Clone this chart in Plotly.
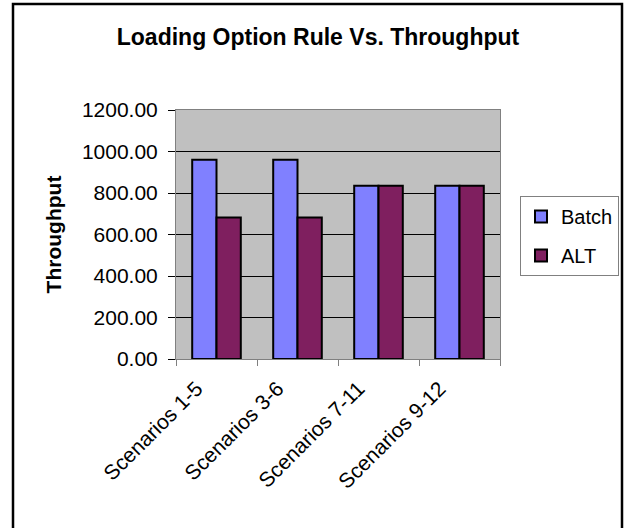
import plotly.graph_objects as go

categories = ["Scenarios 1-5", "Scenarios 3-6", "Scenarios 7-11", "Scenarios 9-12"]
batch = [960, 960, 835, 835]
alt = [682, 682, 835, 835]
y_ticks = [0, 200, 400, 600, 800, 1000, 1200]
y_tick_labels = ["%.2f" % v for v in y_ticks]

W, H = 626, 528
L, R, T, B = 176, 126, 110, 169
pw, ph = W - L - R, H - T - B

def px(x):
    return (x - L) / pw

def py(y):
    return (H - B - y) / ph

fig = go.Figure()
fig.add_trace(go.Bar(name="Batch", x=categories, y=batch, legendgroup="a",
                     marker=dict(color="#8080FF", line=dict(color="black", width=2))))
fig.add_trace(go.Bar(name="ALT", x=categories, y=alt, legendgroup="b",
                     marker=dict(color="#7F1F5F", line=dict(color="black", width=2))))

fig.update_layout(
    width=W, height=H,
    margin=dict(l=L, r=R, t=T, b=B, pad=0, autoexpand=False),
    paper_bgcolor="white",
    plot_bgcolor="#C0C0C0",
    barmode="group", bargap=0.4, bargroupgap=0,
    font=dict(family="Liberation Sans, Arial", size=21, color="black"),
    title=dict(text="<b>Loading Option Rule Vs. Throughput</b>",
               x=318 / W, xanchor="center", y=1 - 37 / H, yanchor="middle",
               font=dict(size=23)),
    showlegend=True,
    legend=dict(x=px(520), y=py(196), xanchor="left", yanchor="top",
                bordercolor="#808080", borderwidth=1, bgcolor="white",
                font=dict(size=20), tracegroupgap=10, itemwidth=30),
    xaxis=dict(tickangle=-45, ticks="outside", tickson="boundaries", ticklen=6,
               tickcolor="#808080", showline=True, linecolor="#808080", linewidth=1,
               mirror=True, showgrid=False, tickfont=dict(size=21), automargin=False,
               ticklabelstandoff=8, ticklabelshift=-20),
    yaxis=dict(range=[0, 1200], tickvals=y_ticks, ticktext=y_tick_labels,
               ticks="outside", ticklen=7, tickcolor="black", automargin=False,
               showline=True, linecolor="#808080", linewidth=1, mirror=True,
               showgrid=True, gridcolor="black", gridwidth=1,
               title=dict(text="<b>Throughput</b>", font=dict(size=21), standoff=14),
               tickfont=dict(size=21), zeroline=False, ticklabelstandoff=6),
    shapes=[dict(type="rect", xref="paper", yref="paper",
                 x0=px(13), x1=px(622), y0=py(540), y1=py(4),
                 line=dict(color="black", width=2.5), fillcolor="rgba(0,0,0,0)",
                 layer="above")],
)

fig.write_html("out.html", config={"displayModeBar": False},
               post_script="document.body.style.margin='0';")
